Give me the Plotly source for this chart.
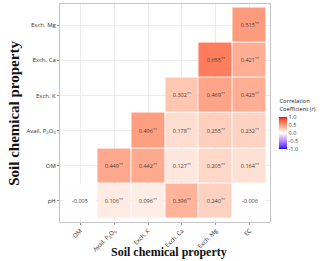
import plotly.graph_objects as go
import numpy as np

x_labels = ["OM", "Avail. P<sub>2</sub>O<sub>5</sub>", "Exch. K", "Exch. Ca", "Exch. Mg", "EC"]
y_labels = ["pH", "OM", "Avail. P<sub>2</sub>O<sub>5</sub>", "Exch. K", "Exch. Ca", "Exch. Mg"]

# rows bottom -> top (pH ... Exch. Mg), columns OM ... EC
r_pH    = [-0.005, 0.106, 0.096, 0.396, 0.240, -0.006]
r_OM    = [None, 0.449, 0.442, 0.127, 0.205, 0.164]
r_P2O5  = [None, None, 0.496, 0.178, 0.255, 0.232]
r_K     = [None, None, None, 0.302, 0.469, 0.425]
r_Ca    = [None, None, None, None, 0.655, 0.421]
r_Mg    = [None, None, None, None, None, 0.515]
sig_pH   = ["", "**", "**", "**", "**", ""]
sig_OM   = ["", "**", "**", "**", "**", "**"]
sig_P2O5 = ["", "", "**", "**", "**", "**"]
sig_K    = ["", "", "", "**", "**", "**"]
sig_Ca   = ["", "", "", "", "**", "**"]
sig_Mg   = ["", "", "", "", "", "**"]

z = [r_pH, r_OM, r_P2O5, r_K, r_Ca, r_Mg]
sig = [sig_pH, sig_OM, sig_P2O5, sig_K, sig_Ca, sig_Mg]
text = [["" if v is None else (f"{v:.3f}" + (f"<sup>{s}</sup>" if s else "")) for v, s in zip(row, srow)]
        for row, srow in zip(z, sig)]

# Lab-interpolated blue-white-red colour scale (like ggplot's gradient2)
def srgb_to_lab(c):
    c = np.array(c) / 255.0
    lin = np.where(c <= 0.04045, c / 12.92, ((c + 0.055) / 1.055) ** 2.4)
    M = np.array([[0.4124, 0.3576, 0.1805], [0.2126, 0.7152, 0.0722], [0.0193, 0.1192, 0.9505]])
    X, Y, Z = M @ lin
    X /= 0.95047; Z /= 1.08883
    f = lambda t: t ** (1 / 3) if t > 0.008856 else 7.787 * t + 16 / 116
    fx, fy, fz = f(X), f(Y), f(Z)
    return np.array([116 * fy - 16, 500 * (fx - fy), 200 * (fy - fz)])

def lab_to_srgb(lab):
    L, a, b = lab
    fy = (L + 16) / 116; fx = fy + a / 500; fz = fy - b / 200
    finv = lambda t: t ** 3 if t ** 3 > 0.008856 else (t - 16 / 116) / 7.787
    X, Y, Z = finv(fx) * 0.95047, finv(fy), finv(fz) * 1.08883
    Mi = np.array([[3.2406, -1.5372, -0.4986], [-0.9689, 1.8758, 0.0415], [0.0557, -0.2040, 1.0570]])
    lin = np.clip(Mi @ np.array([X, Y, Z]), 0, 1)
    c = np.where(lin <= 0.0031308, 12.92 * lin, 1.055 * lin ** (1 / 2.4) - 0.055)
    return tuple(int(round(v)) for v in np.clip(c, 0, 1) * 255)

blue, white, red = srgb_to_lab((0, 0, 255)), srgb_to_lab((255, 255, 255)), srgb_to_lab((255, 0, 0))
cs = []
n = 20
for i in range(n + 1):
    t = i / n
    if t <= 0.5:
        lab = blue + (white - blue) * (t / 0.5)
    else:
        lab = white + (red - white) * ((t - 0.5) / 0.5)
    r, g, b = lab_to_srgb(lab)
    cs.append([t, f"rgb({r},{g},{b})"])

fig = go.Figure(go.Heatmap(
    x=x_labels, y=y_labels, z=z, text=text, texttemplate="%{text}",
    textfont=dict(size=5.5, color="#404040", family="Open Sans"),
    zmin=-1, zmax=1, colorscale=cs, xgap=1, ygap=1, hoverongaps=False,
    colorbar=dict(
        title=dict(text="Correlation<br>Coefficient (<i>r</i>)", side="top",
                   font=dict(size=5.8, color="#222", family="Open Sans")),
        x=1.045, xanchor="left", y=0.456, yanchor="middle", len=0.245, lenmode="fraction",
        thickness=8, outlinewidth=0, ticks="", tickvals=[-1, -0.5, 0, 0.5, 1],
        ticktext=["-1.0", "-0.5", "0.0", "0.5", "1.0"],
        tickfont=dict(size=5.5, color="#444", family="Open Sans"), xpad=0, ypad=0,
    ),
))

axis_common = dict(showgrid=True, gridcolor="#ececec", gridwidth=1, showline=True, mirror=True,
                   linecolor="#c4c4c4", linewidth=1, ticks="outside", ticklen=2, tickcolor="#999",
                   tickfont=dict(size=6, color="#333", family="Open Sans"), zeroline=False,
                   range=[-0.6, 5.6], fixedrange=True)

fig.update_xaxes(**axis_common, tickangle=-45)
fig.update_yaxes(**axis_common)

fig.update_layout(
    width=320, height=261, margin=dict(l=60, r=43, t=4, b=39),
    paper_bgcolor="white", plot_bgcolor="white",
    annotations=[
        dict(text="<b>Soil chemical property</b>", xref="paper", yref="paper", x=0.52, y=-0.138,
             xanchor="center", yanchor="middle", showarrow=False,
             font=dict(size=12, family="Liberation Serif", color="#111")),
        dict(text="<b>Soil chemical property</b>", xref="paper", yref="paper", x=-0.22, y=0.5,
             xanchor="center", yanchor="middle", showarrow=False, textangle=-90,
             font=dict(size=15, family="Liberation Serif", color="#111")),
    ],
)

fig.write_html("out.html")
